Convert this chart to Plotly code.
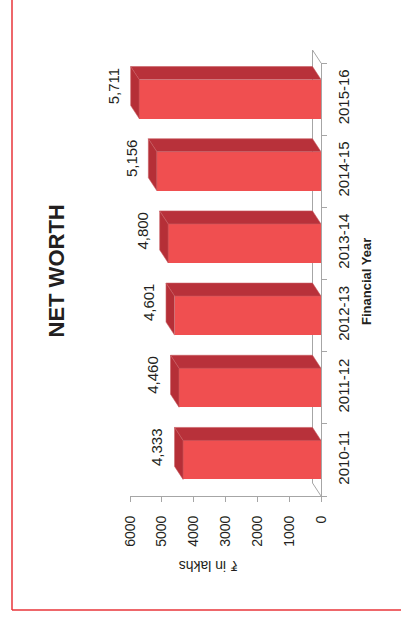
import plotly.graph_objects as go

# ---- data -------------------------------------------------------------
years = ["2010-11", "2011-12", "2012-13", "2013-14", "2014-15", "2015-16"]
net_worth = [4333, 4460, 4601, 4800, 5156, 5711]
value_ticks = [0, 1000, 2000, 3000, 4000, 5000, 6000]

# ---- page geometry ----------------------------------------------------
W, H = 401, 618
L, R, T, B = 130, 80, 63, 122
PW = W - L - R
PH = H - T - B

X_MAX = 6000
HALF = 0.27                 # half thickness of a column's front face
DEPTH_PX = (8.5, 13.0)      # 3D extrusion (left, up) in pixels
DX = DEPTH_PX[0] * X_MAX / PW
DY = DEPTH_PX[1] * len(years) / PH

FRONT = "#f04f50"
TOP = "#b8313a"
SIDE = "#b52f37"
GRID = "#a6a6a6"
INK = "#231f20"
FONT = "Liberation Sans, Arial, sans-serif"


def px(x):
    return (x - L) / PW


def py(y):
    return (H - B - y) / PH


idx = list(range(len(years)))

fig = go.Figure()

# front faces of the columns
fig.add_trace(go.Bar(
    x=net_worth, y=idx, orientation="h", width=2 * HALF,
    marker=dict(color=FRONT, line=dict(width=0)),
    hoverinfo="skip", showlegend=False,
))

# top and end faces that give the columns depth
top_x, top_y, side_x, side_y = [], [], [], []
for i, v in zip(idx, net_worth):
    top_x += [v, 0, DX, v + DX, v, None]
    top_y += [i + HALF, i + HALF, i + HALF + DY, i + HALF + DY, i + HALF, None]
    side_x += [v, v, v + DX, v + DX, v, None]
    side_y += [i - HALF, i + HALF, i + HALF + DY, i - HALF + DY, i - HALF, None]

fig.add_trace(go.Scatter(
    x=top_x, y=top_y, mode="lines", fill="toself", fillcolor=TOP,
    line=dict(width=0.6, color="#c85a60"), hoverinfo="skip", showlegend=False,
))
fig.add_trace(go.Scatter(
    x=side_x, y=side_y, mode="lines", fill="toself", fillcolor=SIDE,
    line=dict(width=0.6, color="#c85a60"), hoverinfo="skip", showlegend=False,
))

# value labels beside each column
annotations = []
for i, v in zip(idx, net_worth):
    annotations.append(dict(
        x=v, y=i, xref="x", yref="y", text=f"{v:,}", showarrow=False,
        textangle=-90, xanchor="center", yanchor="middle",
        xshift=-26, yshift=13, font=dict(family=FONT, size=15, color=INK),
    ))

# titles
annotations += [
    dict(x=px(55.5), y=py(271), xref="paper", yref="paper", text="<b>NET WORTH</b>",
         showarrow=False, textangle=-90, xanchor="center", yanchor="middle",
         font=dict(family=FONT, size=22, color=INK)),
    dict(x=px(366), y=py(282), xref="paper", yref="paper", text="<b>Financial Year</b>",
         showarrow=False, textangle=-90, xanchor="center", yanchor="middle",
         font=dict(family=FONT, size=13, color=INK)),
    dict(x=px(209), y=py(566), xref="paper", yref="paper", text="₹ in lakhs",
         showarrow=False, textangle=180, xanchor="center", yanchor="middle",
         font=dict(family=FONT, size=14, color=INK)),
]

# back wall and floor edges of the 3D frame
x_front = px(W - R)
x_back = px(W - R - DEPTH_PX[0])
shapes = [
    dict(type="line", xref="paper", yref="paper", layer="below",
         x0=x_back, x1=x_back, y0=py(H - B - DEPTH_PX[1]), y1=py(T - DEPTH_PX[1]),
         line=dict(color=GRID, width=1)),
    dict(type="line", xref="paper", yref="paper", layer="below",
         x0=x_back, x1=x_front, y0=py(T - DEPTH_PX[1]), y1=py(T),
         line=dict(color=GRID, width=1)),
    dict(type="line", xref="paper", yref="paper", layer="below",
         x0=x_back, x1=x_front, y0=py(H - B - DEPTH_PX[1]), y1=py(H - B),
         line=dict(color=GRID, width=1)),
    # red page frame
    dict(type="line", xref="paper", yref="paper",
         x0=px(12), x1=px(12), y0=py(-2), y1=py(610),
         line=dict(color="#e8343a", width=1.5)),
    dict(type="line", xref="paper", yref="paper",
         x0=px(12), x1=px(W + 2), y0=py(610), y1=py(610),
         line=dict(color="#e8343a", width=1.5)),
]

fig.update_layout(
    template="none",
    width=W, height=H, autosize=False,
    margin=dict(l=L, r=R, t=T, b=B, pad=0),
    paper_bgcolor="white", plot_bgcolor="white",
    showlegend=False, bargap=0,
    annotations=annotations, shapes=shapes,
    xaxis=dict(
        range=[X_MAX, 0], tickvals=value_ticks, tickangle=-90,
        ticks="outside", ticklen=5, tickcolor=GRID, tickwidth=1,
        ticklabelstandoff=8,
        showline=True, linecolor=GRID, linewidth=1,
        showgrid=False, zeroline=False, automargin=False,
        tickfont=dict(family=FONT, size=14, color=INK),
    ),
    yaxis=dict(
        range=[-0.5, len(years) - 0.5], side="right",
        tickvals=idx, ticktext=years, tickangle=-90, ticks="",
        ticklabelstandoff=9,
        minor=dict(tickvals=[i - 0.5 for i in range(len(years) + 1)],
                   ticks="outside", ticklen=5, tickcolor=GRID, tickwidth=1,
                   showgrid=False),
        showline=True, linecolor=GRID, linewidth=1,
        showgrid=False, zeroline=False, automargin=False,
        tickfont=dict(family=FONT, size=15, color=INK),
    ),
)

fig.write_html("out.html")
